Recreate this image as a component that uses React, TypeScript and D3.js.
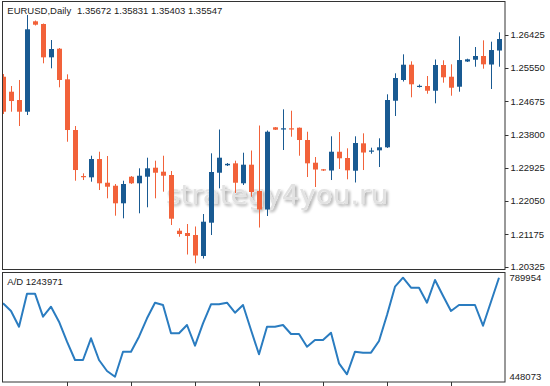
import React from "react";
import * as d3 from "d3";

const W = 550;
const H = 386;

// OHLC (daily EURUSD), index = bar number
const opens = [1.25320,1.24926,1.24708,1.24400,1.26777,1.26706,1.25830,1.26057,1.25252,1.23919,1.22709,1.22675,1.23156,1.22533,1.22454,1.21992,1.22691,1.22518,1.22691,1.22928,1.22823,1.22736,1.21271,1.21211,1.21158,1.20606,1.21482,1.22796,1.22991,1.23043,1.22518,1.23007,1.22315,1.21829,1.23990,1.23932,1.23964,1.23979,1.23656,1.23059,1.22886,1.22854,1.23348,1.23183,1.22849,1.23569,1.23367,1.23385,1.23464,1.24689,1.25234,1.25636,1.25068,1.25076,1.24952,1.25628,1.25320,1.25057,1.25720,1.25767,1.25865,1.25641,1.26009];
const highs = [1.25391,1.25076,1.25234,1.26943,1.26798,1.26719,1.26285,1.26075,1.25383,1.24024,1.22780,1.23243,1.23348,1.23235,1.22499,1.22586,1.22709,1.22912,1.23191,1.23112,1.23243,1.22841,1.21334,1.21447,1.21382,1.21710,1.23306,1.23932,1.23051,1.23112,1.23322,1.23380,1.24037,1.23906,1.23998,1.24463,1.24426,1.23985,1.23874,1.23209,1.22894,1.23753,1.23866,1.23438,1.23753,1.23832,1.23454,1.23701,1.24858,1.25410,1.25909,1.25725,1.25115,1.25339,1.25773,1.25752,1.25646,1.26383,1.25794,1.26101,1.26277,1.26241,1.26488];
const lows = [1.24340,1.24400,1.24024,1.24313,1.26667,1.25673,1.25541,1.25042,1.23611,1.22586,1.22604,1.22560,1.22341,1.22123,1.21666,1.21597,1.22499,1.21729,1.21887,1.22123,1.22297,1.21421,1.21113,1.20645,1.20414,1.20540,1.21158,1.22386,1.22972,1.22263,1.22473,1.22165,1.21355,1.21658,1.23919,1.23393,1.23743,1.23243,1.22683,1.22420,1.22841,1.22604,1.22894,1.22623,1.22539,1.22867,1.23296,1.22946,1.23446,1.24287,1.25194,1.24779,1.25036,1.24873,1.24621,1.25163,1.24821,1.24926,1.25707,1.25583,1.25531,1.24997,1.25583];
const closes = [1.24400,1.24681,1.24400,1.26567,1.26688,1.25830,1.26049,1.25234,1.23919,1.22867,1.22683,1.23156,1.22518,1.22428,1.21992,1.22499,1.22518,1.22717,1.22912,1.22796,1.22717,1.21587,1.21184,1.21132,1.20619,1.21508,1.22815,1.23191,1.23030,1.22533,1.23007,1.22289,1.21829,1.23874,1.23927,1.23964,1.23951,1.23656,1.23043,1.22880,1.22854,1.23348,1.23175,1.22859,1.23577,1.23327,1.23380,1.23464,1.24708,1.25286,1.25636,1.25121,1.25081,1.24952,1.25628,1.25305,1.25031,1.25759,1.25778,1.25865,1.25646,1.26022,1.26312];

// Accumulation/Distribution values
const adValues = [701500,675000,620700,734700,734700,655300,689800,638000,568900,505700,505700,580700,505700,467800,448073,534400,534400,586200,649700,703600,695700,597900,597900,626600,555100,632500,698100,698100,703600,669100,695700,609300,525400,620700,620700,626600,595500,595500,551700,574800,574800,600000,494300,456400,534400,531000,531000,571400,661100,758900,789954,755400,755400,703600,782000,727800,675000,695700,695700,695700,624200,707100,789954];

const priceTicks = [1.26425, 1.2555, 1.24675, 1.238, 1.22925, 1.2205, 1.21175, 1.20325];
const adTicks = [789954, 448073];
const titleText = "EURUSD,Daily";
const quoteText = "1.35672 1.35831 1.35403 1.35547";
const adLabel = "A/D 1243971";
const watermark = "strategy4you.ru";

const UP = "#195a92";
const DOWN = "#f2623a";
const LINE = "#2a7cc0";
const FRAME = "#333333";
const FONT = "'Liberation Sans', Arial, sans-serif";

export default function App() {
  const n = opens.length;
  const x = d3.scaleLinear().domain([0, n - 1]).range([3, 499]);
  const y = d3.scaleLinear().domain([1.20325, 1.26425]).range([266.7, 34.7]);
  const ya = d3.scaleLinear().domain([448073, 789954]).range([376.7, 277.7]);

  const line = d3
    .line<number>()
    .x((_, i) => x(i))
    .y((d) => ya(d));

  const xTicks = d3.range(8, n, 8);
  const bw = 5;

  return (
    <svg
      width={W}
      height={H}
      style={{ position: "absolute", left: 0, top: 0, background: "#fff" }}
      fontFamily={FONT}
    >
      <defs>
        <clipPath id="mainClip">
          <rect x={2.5} y={1.5} width={502.5} height={268} />
        </clipPath>
        <clipPath id="adClip">
          <rect x={2.5} y={272.5} width={502.5} height={109} />
        </clipPath>
        <filter id="wmShadow" x="-10%" y="-30%" width="130%" height="170%">
          <feGaussianBlur in="SourceAlpha" stdDeviation="1.6" />
          <feOffset dx="2" dy="2" result="b" />
          <feComponentTransfer>
            <feFuncA type="linear" slope="0.35" />
          </feComponentTransfer>
          <feMerge>
            <feMergeNode />
            <feMergeNode in="SourceGraphic" />
          </feMerge>
        </filter>
      </defs>
      <rect x={0} y={0} width={W} height={H} fill="#fff" />

      {/* watermark */}
      <text
        x={166}
        y={204}
        fontFamily="'DejaVu Sans', Verdana, sans-serif"
        fontSize={27}
        fill="#e2e2e2"
        textLength={222}
        lengthAdjust="spacingAndGlyphs"
        filter="url(#wmShadow)"
      >
        {watermark}
      </text>

      {/* candles */}
      <g clipPath="url(#mainClip)">
        {opens.map((o, i) => {
          const c = closes[i];
          const up = c >= o;
          const col = up ? UP : DOWN;
          const top = y(Math.max(o, c));
          const bot = y(Math.min(o, c));
          const cx = Math.round(x(i));
          return (
            <g key={i}>
              <line
                x1={cx + 0.5}
                x2={cx + 0.5}
                y1={y(highs[i])}
                y2={y(lows[i])}
                stroke={col}
                strokeWidth={1}
              />
              <rect
                x={cx - 2}
                y={top}
                width={bw}
                height={Math.max(1.2, bot - top)}
                fill={col}
              />
            </g>
          );
        })}
      </g>

      {/* A/D line */}
      <g clipPath="url(#adClip)">
        <path
          d={line(adValues) || ""}
          fill="none"
          stroke={LINE}
          strokeWidth={2}
          strokeLinejoin="round"
        />
      </g>

      {/* frames */}
      <rect x={2.5} y={1.5} width={502.5} height={268} fill="none" stroke={FRAME} strokeWidth={1} />
      <rect x={2.5} y={272.5} width={502.5} height={109.5} fill="none" stroke={FRAME} strokeWidth={1} />

      {/* price axis */}
      {priceTicks.map((t, i) => (
        <g key={i}>
          <line x1={505} x2={508.5} y1={Math.round(y(t)) + 0.5} y2={Math.round(y(t)) + 0.5} stroke={FRAME} />
          <text x={510.5} y={y(t) + 3.3} fontSize={9.5} fill="#222">
            {t.toFixed(5)}
          </text>
        </g>
      ))}

      {/* A/D axis labels */}
      {adTicks.map((t, i) => (
        <text key={i} x={509.5} y={ya(t) + 3.3} fontSize={9.5} fill="#222">
          {t}
        </text>
      ))}

      {/* time ticks */}
      {xTicks.map((i) => (
        <line
          key={i}
          x1={Math.round(x(i)) + 0.5}
          x2={Math.round(x(i)) + 0.5}
          y1={382}
          y2={386}
          stroke={FRAME}
        />
      ))}

      {/* titles */}
      <text x={7.3} y={14} fontSize={9.5} fill="#222">
        {titleText}
      </text>
      <text x={77} y={14} fontSize={9.5} fill="#222">
        {quoteText}
      </text>
      <text x={7.3} y={285} fontSize={9.5} fill="#222">
        {adLabel}
      </text>
    </svg>
  );
}
